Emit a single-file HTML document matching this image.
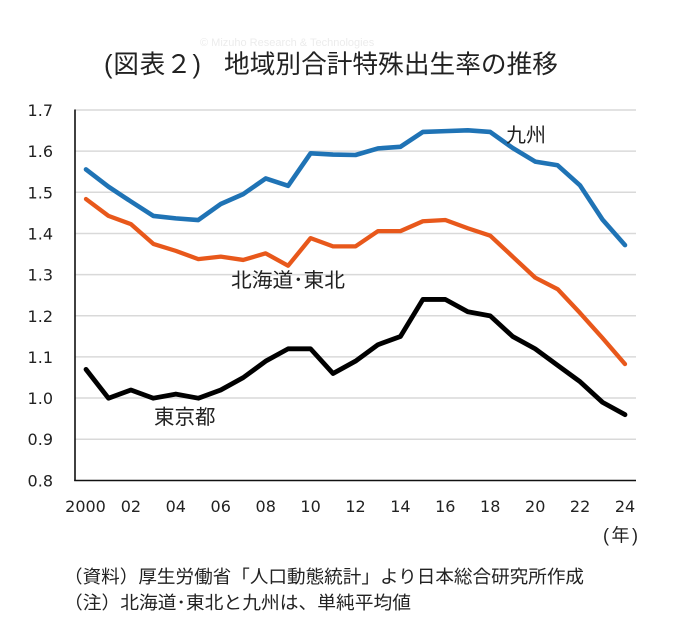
<!DOCTYPE html>
<html>
<head>
<meta charset="utf-8">
<style>
html,body{margin:0;padding:0;background:#fff;}
svg{display:block;}
.num{font-family:"DejaVu Sans","Liberation Sans",sans-serif;font-size:16px;fill:#222;}
.jp{font-family:"Liberation Sans","Noto Sans CJK JP",sans-serif;fill:#222;}
</style>
</head>
<body>
<svg width="680" height="628" viewBox="0 0 680 628" xmlns="http://www.w3.org/2000/svg">
<rect width="680" height="628" fill="#fff"/>
<!-- faint watermark -->
<text x="200" y="46" font-family="Liberation Sans, sans-serif" font-size="11" fill="#ececec">© Mizuho Research &amp; Technologies</text>
<!-- title -->
<text class="jp" x="104" y="73" font-size="25.5" textLength="97" lengthAdjust="spacing">(図表２)</text>
<text class="jp" x="224" y="73" font-size="25.5" textLength="334" lengthAdjust="spacingAndGlyphs">地域別合計特殊出生率の推移</text>

<!-- gridlines -->
<g stroke="#d9d9d9" stroke-width="1.5">
<line x1="75" y1="110" x2="636" y2="110"/>
<line x1="75" y1="151.15" x2="636" y2="151.15"/>
<line x1="75" y1="192.3" x2="636" y2="192.3"/>
<line x1="75" y1="233.45" x2="636" y2="233.45"/>
<line x1="75" y1="274.6" x2="636" y2="274.6"/>
<line x1="75" y1="315.75" x2="636" y2="315.75"/>
<line x1="75" y1="356.9" x2="636" y2="356.9"/>
<line x1="75" y1="398.05" x2="636" y2="398.05"/>
<line x1="75" y1="439.2" x2="636" y2="439.2"/>
</g>
<!-- axes -->
<g stroke="#111" stroke-width="1.6">
<line x1="75" y1="109.5" x2="75" y2="481"/>
<line x1="74.2" y1="480.5" x2="636" y2="480.5"/>
</g>

<!-- y labels -->
<g class="num" text-anchor="end">
<text x="53" y="116">1.7</text>
<text x="53" y="157.2">1.6</text>
<text x="53" y="198.3">1.5</text>
<text x="53" y="239.5">1.4</text>
<text x="53" y="280.6">1.3</text>
<text x="53" y="321.8">1.2</text>
<text x="53" y="362.9">1.1</text>
<text x="53" y="404.1">1.0</text>
<text x="53" y="445.2">0.9</text>
<text x="53" y="486.4">0.8</text>
</g>
<!-- x labels -->
<g class="num" text-anchor="middle">
<text x="85.5" y="512">2000</text>
<text x="130.9" y="512">02</text>
<text x="175.8" y="512">04</text>
<text x="220.7" y="512">06</text>
<text x="265.7" y="512">08</text>
<text x="310.6" y="512">10</text>
<text x="355.5" y="512">12</text>
<text x="400.4" y="512">14</text>
<text x="445.3" y="512">16</text>
<text x="490.2" y="512">18</text>
<text x="535.2" y="512">20</text>
<text x="580.1" y="512">22</text>
<text x="625" y="512">24</text>
</g>
<text class="jp" x="603" y="541.5" font-size="18" textLength="35" lengthAdjust="spacing">(年)</text>

<!-- series -->
<g transform="translate(86,480.5) scale(22.458,-411.5) translate(0,-0.8)" fill="none" stroke-linejoin="round" stroke-linecap="round">
<polyline vector-effect="non-scaling-stroke" stroke="#1f73b5" stroke-width="4.6"
 points="0,1.556 1,1.514 2,1.478 3,1.443 4,1.437 5,1.433 6,1.472 7,1.496 8,1.534 9,1.516 10,1.595 11,1.592 12,1.591 13,1.607 14,1.611 15,1.647 16,1.649 17,1.651 18,1.647 19,1.608 20,1.575 21,1.566 22,1.517 23,1.434 24,1.372"/>
<polyline vector-effect="non-scaling-stroke" stroke="#e8581b" stroke-width="4.3"
 points="0,1.484 1,1.443 2,1.423 3,1.375 4,1.358 5,1.338 6,1.344 7,1.336 8,1.352 9,1.322 10,1.389 11,1.369 12,1.369 13,1.406 14,1.406 15,1.430 16,1.433 17,1.413 18,1.395 19,1.344 20,1.293 21,1.265 22,1.207 23,1.146 24,1.083"/>
<polyline vector-effect="non-scaling-stroke" stroke="#000" stroke-width="4.8"
 points="0,1.07 1,1.00 2,1.02 3,1.00 4,1.01 5,1.00 6,1.02 7,1.05 8,1.09 9,1.12 10,1.12 11,1.06 12,1.09 13,1.13 14,1.15 15,1.24 16,1.24 17,1.21 18,1.20 19,1.15 20,1.12 21,1.08 22,1.04 23,0.99 24,0.96"/>
</g>

<!-- series labels -->
<text class="jp" x="506" y="142" font-size="20">九州</text>
<text class="jp" x="231" y="287" font-size="20" textLength="114" lengthAdjust="spacingAndGlyphs">北海道･東北</text>
<text class="jp" x="154" y="424" font-size="20.5">東京都</text>

<!-- footnotes -->
<text class="jp" x="64" y="583" font-size="18" textLength="520" lengthAdjust="spacingAndGlyphs">（資料）厚生労働省「人口動態統計」より日本総合研究所作成</text>
<text class="jp" x="64" y="609" font-size="18" textLength="347" lengthAdjust="spacingAndGlyphs">（注）北海道･東北と九州は、単純平均値</text>
</svg>
</body>
</html>
